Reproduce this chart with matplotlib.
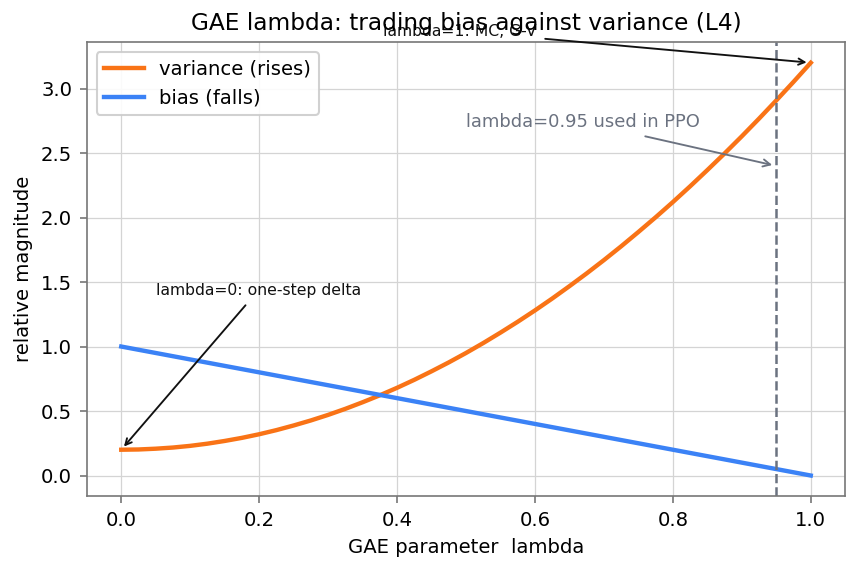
import matplotlib.pyplot as plt

# lambda grid and curves
lam = [0.0, 0.025, 0.05, 0.075, 0.1, 0.125, 0.15, 0.175, 0.2, 0.225, 0.25,
       0.275, 0.3, 0.325, 0.35, 0.375, 0.4, 0.425, 0.45, 0.475, 0.5,
       0.525, 0.55, 0.575, 0.6, 0.625, 0.65, 0.675, 0.7, 0.725, 0.75,
       0.775, 0.8, 0.825, 0.85, 0.875, 0.9, 0.925, 0.95, 0.975, 1.0]
variance = [0.2, 0.202, 0.208, 0.217, 0.23, 0.247, 0.268, 0.292, 0.32, 0.352, 0.388,
            0.427, 0.47, 0.517, 0.568, 0.622, 0.68, 0.742, 0.808, 0.877, 0.95,
            1.027, 1.108, 1.192, 1.28, 1.372, 1.468, 1.567, 1.67, 1.777, 1.888,
            2.002, 2.12, 2.242, 2.368, 2.497, 2.63, 2.767, 2.908, 3.052, 3.2]
bias = [1.0, 0.975, 0.95, 0.925, 0.9, 0.875, 0.85, 0.825, 0.8, 0.775, 0.75,
        0.725, 0.7, 0.675, 0.65, 0.625, 0.6, 0.575, 0.55, 0.525, 0.5,
        0.475, 0.45, 0.425, 0.4, 0.375, 0.35, 0.325, 0.3, 0.275, 0.25,
        0.225, 0.2, 0.175, 0.15, 0.125, 0.1, 0.075, 0.05, 0.025, 0.0]
ppo_lambda = 0.95

fig, ax = plt.subplots(figsize=(859 / 150, 569 / 150), dpi=150)
fig.subplots_adjust(left=0.101, right=0.984, top=0.926, bottom=0.128)

ax.plot(lam, variance, color="#f97316", lw=2.1, label="variance (rises)")
ax.plot(lam, bias, color="#3b82f6", lw=2.1, label="bias (falls)")
ax.axvline(ppo_lambda, color="#6b7280", ls="--", lw=1.2)

ax.annotate("lambda=0: one-step delta", xy=(lam[0], variance[0]), xytext=(0.05, 1.4),
            fontsize=7.5, color="#111111",
            arrowprops=dict(arrowstyle="->", color="#111111", lw=0.9))
ax.annotate("lambda=1: MC, G-V", xy=(lam[-1], variance[-1]), xytext=(0.38, 3.41),
            fontsize=7.5, color="#111111",
            arrowprops=dict(arrowstyle="->", color="#111111", lw=0.9))
ax.annotate("lambda=0.95 used in PPO", xy=(ppo_lambda, 2.4), xytext=(0.5, 2.7),
            fontsize=8.6, color="#6b7280",
            arrowprops=dict(arrowstyle="->", color="#6b7280", lw=0.9))

ax.set_title("GAE lambda: trading bias against variance (L4)", fontsize=11.2)
ax.set_xlabel("GAE parameter  lambda", fontsize=9.4)
ax.set_ylabel("relative magnitude", fontsize=9.4)
ax.grid(True, color="#d4d4d4", lw=0.6)
ax.set_axisbelow(True)
for s in ax.spines.values():
    s.set_color("#777777")
ax.tick_params(labelsize=9.4, color="#777777")
ax.legend(loc="upper left", fontsize=9.4, framealpha=0.9)

fig.savefig("out.png", dpi=150)
